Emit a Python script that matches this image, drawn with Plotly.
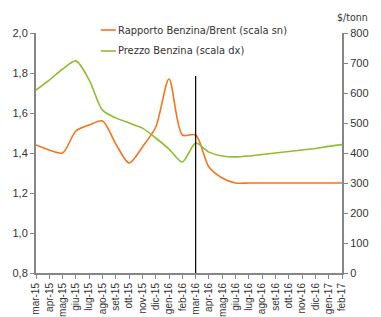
import plotly.graph_objects as go

months = ["mar-15","apr-15","mag-15","giu-15","lug-15","ago-15","set-15","ott-15","nov-15","dic-15",
          "gen-16","feb-16","mar-16","apr-16","mag-16","giu-16","lug-16","ago-16","set-16","ott-16",
          "nov-16","dic-16","gen-17","feb-17"]
rapporto = [1.44,1.415,1.40,1.51,1.54,1.56,1.445,1.35,1.43,1.53,
            1.77,1.49,1.49,1.33,1.275,1.25,1.25,1.25,1.25,1.25,
            1.25,1.25,1.25,1.25]
prezzo = [610,643,680,707,643,543,517,500,483,450,
          413,370,433,403,390,387,390,395,400,405,
          410,415,422,428]
left_ticks = [0.8,1.0,1.2,1.4,1.6,1.8,2.0]
right_ticks = [0,100,200,300,400,500,600,700,800]
marker_month = "mar-16"
marker_top = 1.785

ORANGE = "#F9731A"
GREEN = "#8DBE2D"
AXIS = "#868686"
TXT = "#333333"
FONT = "Liberation Sans"
NARROW = "Liberation Sans Narrow, Arial Narrow, DejaVu Sans Condensed, Liberation Sans"

xs = list(range(len(months)))
fig = go.Figure()
fig.add_trace(go.Scatter(x=xs, y=rapporto, mode="lines", line=dict(color=ORANGE, width=1.6, shape="spline", smoothing=0.8),
                         name="Rapporto Benzina/Brent (scala sn)", yaxis="y"))
fig.add_trace(go.Scatter(x=xs, y=prezzo, mode="lines", line=dict(color=GREEN, width=1.6, shape="spline", smoothing=0.8),
                         name="Prezzo Benzina (scala dx)", yaxis="y2"))

mi = months.index(marker_month)
fig.add_shape(type="line", xref="x", yref="y", x0=mi, x1=mi, y0=0.8, y1=marker_top,
              line=dict(color="black", width=1.2))

# custom legend
legend_items = [("Rapporto Benzina/Brent (scala sn)", ORANGE, 1.0125), ("Prezzo Benzina (scala dx)", GREEN, 0.925)]
for txt, col, yp in legend_items:
    fig.add_shape(type="line", xref="paper", yref="paper", x0=0.212, x1=0.261, y0=yp, y1=yp,
                  line=dict(color=col, width=1.6))
    fig.add_annotation(xref="paper", yref="paper", x=0.262, y=yp, text=txt, showarrow=False,
                       xanchor="left", yanchor="middle", font=dict(family=NARROW, size=11, color=TXT))

fig.add_annotation(xref="paper", yref="paper", x=1.035, y=1.067, text="$/tonn", showarrow=False,
                   xanchor="center", yanchor="middle", font=dict(family=NARROW, size=10.5, color=TXT))

# page body has an 8px margin: shrink figure so the plot area lands where the reference's does
fig.update_layout(
    width=373, height=309, margin=dict(l=28, r=39, t=25, b=44, autoexpand=False),
    paper_bgcolor="white", plot_bgcolor="white", showlegend=False,
    separators=",.",
    font=dict(family=FONT, size=11, color=TXT),
    xaxis=dict(range=[0, len(months)-1], tickmode="array", tickvals=xs, ticktext=months, tickangle=-90,
               automargin=False,
               showgrid=False, zeroline=False, showline=True, linecolor=AXIS, linewidth=2,
               ticks="outside", ticklen=4, tickcolor=AXIS, tickfont=dict(size=10, color=TXT)),
    yaxis=dict(range=[0.8, 2.0], tickvals=left_ticks, tickformat=".1f", showgrid=False, zeroline=False,
               automargin=False,
               showline=True, linecolor=AXIS, linewidth=2, ticks="outside", ticklen=4, tickcolor=AXIS,
               tickfont=dict(size=11, color=TXT)),
    yaxis2=dict(range=[0, 800], tickvals=right_ticks, overlaying="y", side="right", showgrid=False,
                automargin=False,
                zeroline=False, showline=True, linecolor=AXIS, linewidth=2, ticks="outside", ticklen=4,
                tickcolor=AXIS, tickfont=dict(size=11, color=TXT)),
)
fig.write_html("out.html")
